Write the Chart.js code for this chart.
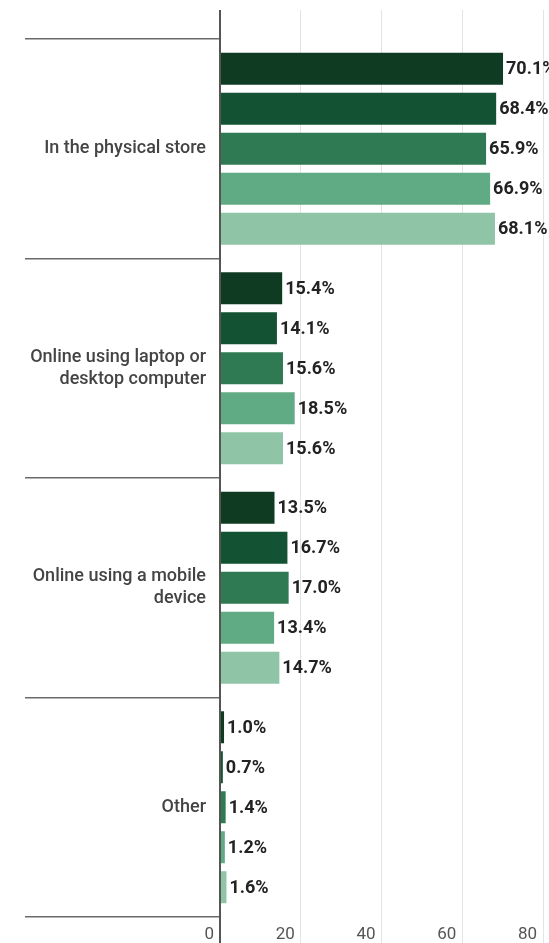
<!DOCTYPE html>
<html lang="en">
<head>
    <meta charset="UTF-8">
    <title>Where shoppers buy</title>
    <script src="https://cdn.jsdelivr.net/npm/chart.js"></script>
    <style>
        body {
            margin: 0;
            padding: 0;
            background: #ffffff;
            overflow: hidden;
        }

        .chart-box {
            position: relative;
            width: 549px;
            height: 943px;
        }
    </style>
</head>
<body>
<div class="chart-box">
    <canvas id="channelChart"></canvas>
</div>

<script>
    // categories and one array per series (percent of respondents)
    const categories = [
        "In the physical store",
        ["Online using laptop or", "desktop computer"],
        ["Online using a mobile", "device"],
        "Other"
    ];
    const series1 = [70.1, 15.4, 13.5, 1.0];
    const series2 = [68.4, 14.1, 16.7, 0.7];
    const series3 = [65.9, 15.6, 17.0, 1.4];
    const series4 = [66.9, 18.5, 13.4, 1.2];
    const series5 = [68.1, 15.6, 14.7, 1.6];
    const xTickValues = [0, 20, 40, 60, 80];

    const seriesList = [series1, series2, series3, series4, series5];
    const barColors = ["#0f3b23", "#135232", "#2f7a52", "#60aa84", "#8fc4a7"];

    const axisColor = "#555555";
    const gridColor = "#e3e3e3";

    // vertical lines: dark at zero, light elsewhere
    const lineColor = ctx => (ctx.tick && ctx.tick.value === 0) ? axisColor : gridColor;
    const lineWidth = ctx => (ctx.tick && ctx.tick.value === 0) ? 2 : 1;
    const useTickValues = scale => { scale.ticks = xTickValues.map(v => ({ value: v })); };

    // percent label just past the end of each bar
    const valueLabels = {
        id: "valueLabels",
        afterDatasetsDraw(chart) {
            const ctx = chart.ctx;
            ctx.save();
            ctx.font = "bold 18px Roboto";
            ctx.fillStyle = "#222222";
            ctx.textAlign = "left";
            ctx.textBaseline = "middle";
            chart.data.datasets.forEach((ds, i) => {
                chart.getDatasetMeta(i).data.forEach((bar, j) => {
                    ctx.fillText(ds.data[j].toFixed(1) + "%", bar.x + 3, bar.y + 1);
                });
            });
            ctx.restore();
        }
    };

    new Chart(document.getElementById("channelChart"), {
        type: "bar",
        data: {
            labels: categories,
            datasets: seriesList.map((values, i) => ({
                label: "Series " + (i + 1),
                data: values,
                backgroundColor: barColors[i],
                categoryPercentage: 0.911,
                barPercentage: 0.8
            }))
        },
        options: {
            indexAxis: "y",
            responsive: true,
            maintainAspectRatio: false,
            animation: false,
            layout: { padding: { top: 10, right: 6, left: 0, bottom: 0 } },
            plugins: {
                legend: { display: false },
                tooltip: { enabled: false }
            },
            scales: {
                x: {
                    position: "bottom",
                    min: xTickValues[0],
                    max: xTickValues[xTickValues.length - 1],
                    afterBuildTicks: useTickValues,
                    afterFit: scale => { scale.height = 26; },
                    border: { display: false },
                    grid: { color: lineColor, lineWidth: lineWidth, tickLength: 26 },
                    ticks: {
                        align: "end",
                        labelOffset: -6,
                        padding: -18,
                        color: "#555555",
                        font: { family: "Roboto", size: 17 }
                    }
                },
                xTop: {
                    axis: "x",
                    position: "top",
                    min: xTickValues[0],
                    max: xTickValues[xTickValues.length - 1],
                    afterBuildTicks: useTickValues,
                    border: { display: false },
                    grid: { drawOnChartArea: false, color: lineColor, lineWidth: lineWidth, tickLength: 29 },
                    ticks: { display: false }
                },
                y: {
                    afterFit: scale => { scale.width = 220; },
                    border: { color: axisColor, width: 2 },
                    grid: { drawOnChartArea: false, tickLength: 195, color: "#6a6a6a", lineWidth: 1.5 },
                    ticks: {
                        padding: -181,
                        color: "#444444",
                        font: { family: "Roboto", size: 18, weight: "500", lineHeight: 1.2 }
                    }
                }
            }
        },
        plugins: [valueLabels]
    });
</script>
</body>
</html>
